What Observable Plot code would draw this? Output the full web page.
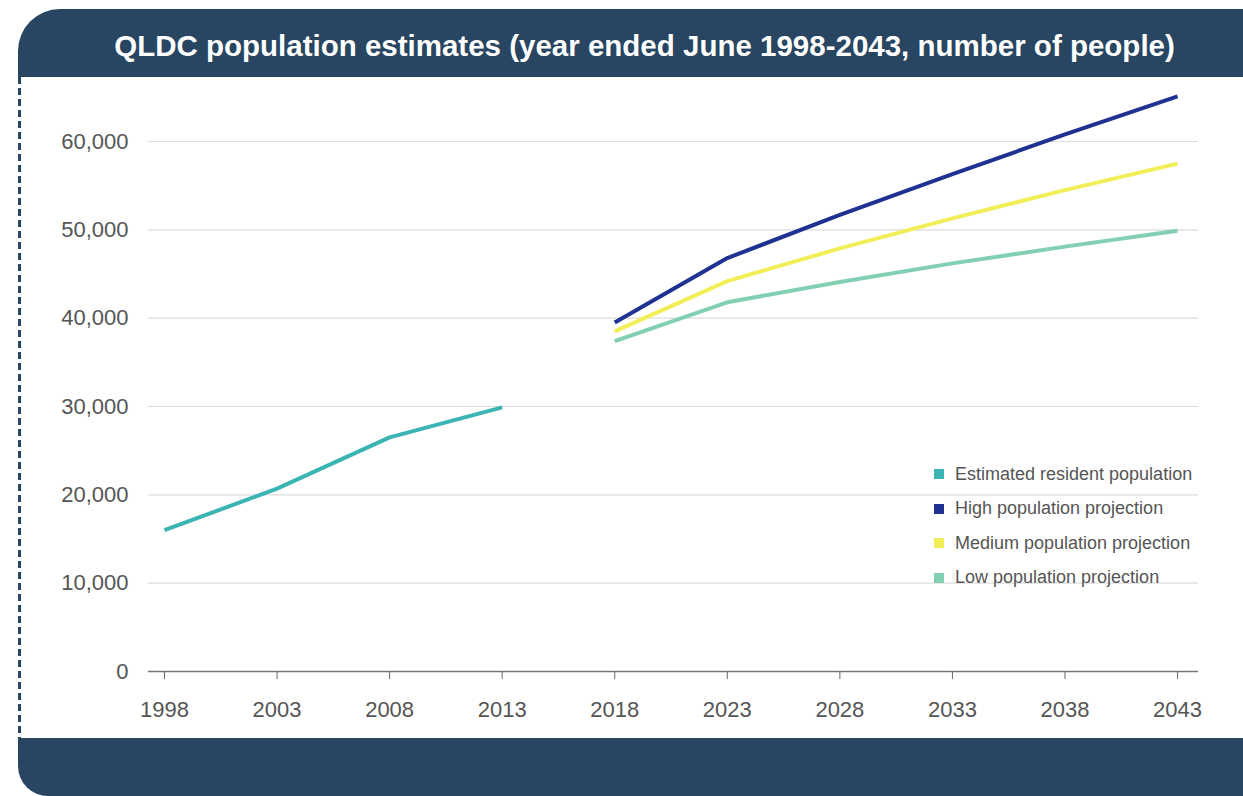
<!DOCTYPE html>
<html>
<head>
<meta charset="utf-8">
<script src="https://cdn.jsdelivr.net/npm/d3@7"></script>
<script src="https://cdn.jsdelivr.net/npm/@observablehq/plot@0.6"></script>
<style>
  html, body { margin: 0; padding: 0; background: #fff; }
  body { width: 1243px; height: 796px; position: relative; overflow: hidden; font-family: "Liberation Sans", Arial, sans-serif; }
  #header { position: absolute; left: 18px; top: 9px; width: 1225px; height: 68px; background: #284561;
    border-top-left-radius: 42px; color: #fff; font-weight: bold; font-size: 29.5px; display: flex; align-items: center; justify-content: center; padding-left: 28px; padding-top: 6px; box-sizing: border-box; }
  #footer { position: absolute; left: 18px; top: 738px; width: 1225px; height: 58px; background: #284561; border-bottom-left-radius: 30px; }
  #dash { position: absolute; left: 18px; top: 77px; width: 2.5px; height: 661px;
    background: repeating-linear-gradient(to bottom, #284561 0 7px, transparent 7px 11px); }
  #chart { position: absolute; left: 0; top: 77px; }
  #legend { position: absolute; left: 934px; top: 457px; font-size: 18px; color: #555; }
  .row { display: flex; align-items: center; height: 34.5px; }
  .sw { width: 10px; height: 10px; margin-right: 11px; }
</style>
</head>
<body>
<div id="header">QLDC population estimates (year ended June 1998-2043, number of people)</div>
<div id="dash"></div>
<div id="chart"></div>
<div id="legend"></div>
<div id="footer"></div>
<script>
const seriesNames = ["Estimated resident population", "High population projection", "Medium population projection", "Low population projection"];
const seriesColors = ["#3bb4b4", "#1f3291", "#f1ee58", "#82d0b1"];

const estYears = [1998, 2003, 2008, 2013];
const estValues = [16000, 20700, 26500, 29900];

const projYears = [2018, 2023, 2028, 2033, 2038, 2043];
const highValues = [39500, 46800, 51700, 56300, 60800, 65100];
const mediumValues = [38500, 44200, 47900, 51300, 54500, 57500];
const lowValues = [37400, 41800, 44100, 46200, 48100, 49900];

const xTicks = [1998, 2003, 2008, 2013, 2018, 2023, 2028, 2033, 2038, 2043];
const yTicks = [0, 10000, 20000, 30000, 40000, 50000, 60000];

const data = [];
estYears.forEach((y, i) => data.push({series: seriesNames[0], year: y, value: estValues[i]}));
[highValues, mediumValues, lowValues].forEach((vals, k) => {
  projYears.forEach((y, i) => data.push({series: seriesNames[k + 1], year: y, value: vals[i]}));
});

const chart = Plot.plot({
  width: 1243,
  height: 661,
  marginLeft: 148,
  marginRight: 45,
  marginTop: 11,
  marginBottom: 67,
  style: {fontFamily: "'Liberation Sans', Arial, sans-serif", fontSize: "22px", color: "#555", background: "transparent"},
  x: {domain: [1997.29, 2043.93]},
  y: {domain: [0, 66000]},
  color: {domain: seriesNames, range: seriesColors},
  marks: [
    Plot.ruleY(yTicks.filter(d => d > 0), {stroke: "#dcdcdc", strokeWidth: 1.2}),
    Plot.ruleY([0], {stroke: "#777", strokeWidth: 1.5}),
    Plot.axisX({ticks: xTicks, tickFormat: d => String(d), tickSize: 8, tickPadding: 22, stroke: "#666", fill: "#555", label: null, fontSize: 22}),
    Plot.axisY({ticks: yTicks, tickFormat: d3.format(","), tickSize: 0, tickPadding: 20, fill: "#555", label: null, fontSize: 22}),
    Plot.line(data, {x: "year", y: "value", z: "series", stroke: "series", strokeWidth: 4, strokeLinejoin: "round", strokeLinecap: "butt"})
  ]
});
document.getElementById("chart").appendChild(chart);

const legend = document.getElementById("legend");
seriesNames.forEach((name, i) => {
  const row = document.createElement("div");
  row.className = "row";
  const sw = document.createElement("div");
  sw.className = "sw";
  sw.style.background = seriesColors[i];
  const t = document.createElement("span");
  t.textContent = name;
  row.appendChild(sw);
  row.appendChild(t);
  legend.appendChild(row);
});
</script>
</body>
</html>
